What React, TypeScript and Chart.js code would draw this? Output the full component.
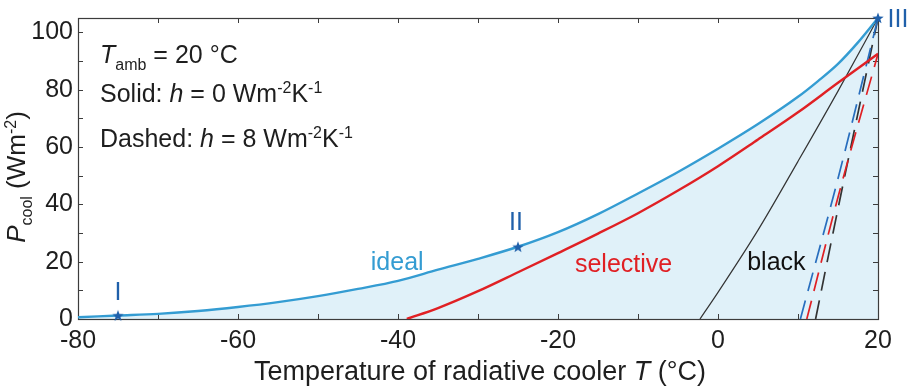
import React, { useEffect, useRef } from 'react';
import { Chart, registerables } from 'chart.js';

Chart.register(...registerables);

// ---------- data ----------
const idealT = [-80, -75, -70, -65, -60, -55, -50, -45, -40, -35, -30, -25, -20, -15, -10, -5, 0, 5, 10, 12.5, 15, 17.5, 20];
const idealP = [0.6, 1.2, 1.8, 2.8, 4.2, 5.9, 8.0, 10.5, 13.3, 17.2, 21.0, 25.2, 30.3, 36.6, 43.8, 51.3, 59.4, 68.0, 77.5, 83.0, 89.0, 96.5, 105];

const selectiveT = [-38.9, -35, -30, -25, -20, -15, -10, -5, 0, 5, 10, 15, 20];
const selectiveP = [0, 3.8, 9.7, 16.3, 23.0, 29.8, 36.9, 44.8, 53.3, 62.6, 72.1, 82.4, 92.5];

const blackT = [-2.25, 0, 5, 10, 15, 20];
const blackP = [0, 9.3, 31, 55, 79.5, 105];

const idealDashT = [10.3, 15, 20];
const idealDashP = [0, 49, 105];
const selectiveDashT = [11.1, 15, 20];
const selectiveDashP = [0, 42.5, 92.5];
const blackDashT = [12.2, 15, 20];
const blackDashP = [0, 38.5, 105];

const starT = [-75, -25, 20];
const starP = [1.2, 25.2, 105];
const starNames = ['I', 'II', 'III'];
const starLabelT = [-75, -25.25, 22.5];
const starLabelP = [6.6, 31.2, 101.9];

const curveNames = ['ideal', 'selective', 'black'];
const curveLabelT = [-40.1, -11.8, 7.3];
const curveLabelP = [17.2, 16.5, 17.2];

const xTickValues = [-80, -60, -40, -20, 0, 20];
const yTickValues = [0, 20, 40, 60, 80, 100];
const xMinorTicks = [-80, -70, -60, -50, -40, -30, -20, -10, 0, 10, 20];
const yMinorTicks = [0, 10, 20, 30, 40, 50, 60, 70, 80, 90, 100];

// ---------- styles ----------
const FONT = '"Liberation Sans", Arial, Helvetica, sans-serif';
const BLUE = 'rgb(52,156,210)';
const RED = 'rgb(224,32,36)';
const BLACK = '#333333';
const DARKBLUE = 'rgb(32,96,170)';
const FILL = 'rgb(224,241,249)';
const TEXT = '#1e1e1e';

const W = 909;
const H = 390;

type Seg = { t: string; it?: boolean; sub?: boolean; sup?: boolean };

const segFont = (s: Seg, fs: number) =>
  `${s.it ? 'italic ' : ''}${s.sub || s.sup ? Math.round(fs * 0.62) : fs}px ${FONT}`;

function measureRich(ctx: CanvasRenderingContext2D, segs: Seg[], fs: number) {
  let w = 0;
  for (const s of segs) {
    ctx.font = segFont(s, fs);
    w += ctx.measureText(s.t).width;
  }
  return w;
}

function drawRich(
  ctx: CanvasRenderingContext2D,
  segs: Seg[],
  x: number,
  y: number,
  fs: number,
  color: string,
  align: 'left' | 'center' = 'left'
) {
  const w = measureRich(ctx, segs, fs);
  let cx = align === 'center' ? x - w / 2 : x;
  ctx.textAlign = 'left';
  ctx.textBaseline = 'alphabetic';
  ctx.fillStyle = color;
  for (const s of segs) {
    ctx.font = segFont(s, fs);
    const dy = s.sub ? fs * 0.28 : s.sup ? -fs * 0.36 : 0;
    ctx.fillText(s.t, cx, y + dy);
    cx += ctx.measureText(s.t).width;
  }
}

const toPts = (xs: number[], ys: number[]) => xs.map((x, i) => ({ x, y: ys[i] }));

function makeStar(color: string, r: number) {
  const c = document.createElement('canvas');
  const s = Math.ceil(r * 2 + 2);
  c.width = s;
  c.height = s;
  const g = c.getContext('2d')!;
  g.fillStyle = color;
  g.beginPath();
  for (let i = 0; i < 10; i++) {
    const rad = i % 2 === 0 ? r : r * 0.42;
    const a = -Math.PI / 2 + (i * Math.PI) / 5;
    const px = s / 2 + rad * Math.cos(a);
    const py = s / 2 + rad * Math.sin(a) + r * 0.08;
    if (i === 0) g.moveTo(px, py);
    else g.lineTo(px, py);
  }
  g.closePath();
  g.fill();
  return c;
}

const framePlugin = {
  id: 'frameTicks',
  beforeDatasetsDraw(chart: any) {
    const { ctx, chartArea: a, scales } = chart;
    const xs = scales.x;
    const ys = scales.y;
    const tl = 5;
    ctx.save();
    ctx.strokeStyle = '#3c3c3c';
    ctx.lineWidth = 1;
    ctx.beginPath();
    for (const v of xMinorTicks) {
      const px = Math.round(xs.getPixelForValue(v)) + 0.5;
      ctx.moveTo(px, a.bottom);
      ctx.lineTo(px, a.bottom - tl);
      ctx.moveTo(px, a.top);
      ctx.lineTo(px, a.top + tl);
    }
    for (const v of yMinorTicks) {
      const py = Math.round(ys.getPixelForValue(v)) + 0.5;
      ctx.moveTo(a.left, py);
      ctx.lineTo(a.left + tl, py);
      ctx.moveTo(a.right, py);
      ctx.lineTo(a.right - tl, py);
    }
    ctx.stroke();
    ctx.lineWidth = 1.2;
    ctx.strokeRect(Math.round(a.left) + 0.5, Math.round(a.top) + 0.5, Math.round(a.right - a.left), Math.round(a.bottom - a.top));
    ctx.restore();
  },
};

const textPlugin = {
  id: 'richTexts',
  afterDraw(chart: any) {
    const { ctx, chartArea: a, scales } = chart;
    const xs = scales.x;
    const ys = scales.y;
    ctx.save();
    // annotation block
    drawRich(ctx, [{ t: 'T', it: true }, { t: 'amb', sub: true }, { t: ' = 20 °C' }], a.left + 22, a.top + 45, 25, TEXT);
    drawRich(
      ctx,
      [{ t: 'Solid: ' }, { t: 'h', it: true }, { t: ' = 0 Wm' }, { t: '-2', sup: true }, { t: 'K' }, { t: '-1', sup: true }],
      a.left + 22,
      a.top + 84,
      25,
      TEXT
    );
    drawRich(
      ctx,
      [{ t: 'Dashed: ' }, { t: 'h', it: true }, { t: ' = 8 Wm' }, { t: '-2', sup: true }, { t: 'K' }, { t: '-1', sup: true }],
      a.left + 22,
      a.top + 129,
      25,
      TEXT
    );
    // axis titles
    drawRich(
      ctx,
      [{ t: 'Temperature of radiative cooler ' }, { t: 'T', it: true }, { t: ' (°C)' }],
      480,
      a.bottom + 61,
      27,
      TEXT,
      'center'
    );
    ctx.save();
    ctx.translate(25, 177);
    ctx.rotate(-Math.PI / 2);
    drawRich(ctx, [{ t: 'P', it: true }, { t: 'cool', sub: true }, { t: ' (Wm' }, { t: '-2', sup: true }, { t: ')' }], 0, 0, 26, TEXT, 'center');
    ctx.restore();
    // curve labels
    const curveColors = [BLUE, RED, '#111111'];
    curveNames.forEach((n, i) => {
      drawRich(ctx, [{ t: n }], xs.getPixelForValue(curveLabelT[i]), ys.getPixelForValue(curveLabelP[i]), 25, curveColors[i], 'center');
    });
    // star labels
    starNames.forEach((n, i) => {
      drawRich(ctx, [{ t: n }], xs.getPixelForValue(starLabelT[i]), ys.getPixelForValue(starLabelP[i]), 25, DARKBLUE, 'center');
    });
    ctx.restore();
  },
};

export default function App() {
  const ref = useRef<HTMLCanvasElement | null>(null);
  useEffect(() => {
    if (!ref.current) return;
    document.body.style.margin = '0';
    document.body.style.overflow = 'hidden';
    const star = makeStar(DARKBLUE, 6);
    const line = (xs: number[], ys: number[], color: string, width: number, order: number, extra: any = {}) => ({
      data: toPts(xs, ys),
      borderColor: color,
      borderWidth: width,
      pointRadius: 0,
      fill: false,
      cubicInterpolationMode: 'monotone',
      order,
      ...extra,
    });
    const chart = new Chart(ref.current, {
      type: 'line',
      data: {
        datasets: [
          {
            data: toPts(starT, starP),
            showLine: false,
            pointStyle: star as any,
            pointRadius: 6,
            clip: false as any,
            order: 0,
          } as any,
          line(idealT, idealP, BLUE, 2.4, 1, { fill: 'origin', backgroundColor: FILL }),
          line(selectiveT, selectiveP, RED, 2.4, 2),
          line(blackT, blackP, BLACK, 1.2, 3),
          line(idealDashT, idealDashP, 'rgb(40,110,190)', 1.7, 4, { borderDash: [19, 10] }),
          line(selectiveDashT, selectiveDashP, RED, 1.7, 5, { borderDash: [19, 10] }),
          line(blackDashT, blackDashP, BLACK, 1.7, 6, { borderDash: [19, 10] }),
        ] as any,
      },
      options: {
        responsive: false,
        animation: false,
        devicePixelRatio: 1,
        layout: { padding: { top: 18, right: 31, left: 0, bottom: 0 } },
        plugins: {
          legend: { display: false },
          tooltip: { enabled: false },
          filler: { drawTime: 'beforeDatasetsDraw' } as any,
        },
        scales: {
          x: {
            type: 'linear',
            min: -80,
            max: 20,
            grid: { display: false, drawTicks: false },
            border: { display: false },
            ticks: {
              font: { size: 25, family: FONT },
              color: TEXT,
              padding: 7,
              maxRotation: 0,
              autoSkip: false,
              callback: (v: any) => String(v),
            },
            afterBuildTicks: (s: any) => {
              s.ticks = xTickValues.map((v) => ({ value: v }));
            },
            afterFit: (s: any) => {
              s.height = 71;
              s.paddingLeft = 0;
              s.paddingRight = 0;
            },
          },
          y: {
            type: 'linear',
            min: 0,
            max: 105,
            grid: { display: false, drawTicks: false },
            border: { display: false },
            ticks: {
              font: { size: 25, family: FONT },
              color: TEXT,
              padding: 5,
              autoSkip: false,
              callback: (v: any) => String(v),
            },
            afterBuildTicks: (s: any) => {
              s.ticks = yTickValues.map((v) => ({ value: v }));
            },
            afterFit: (s: any) => {
              s.width = 78;
              s.paddingTop = 0;
              s.paddingBottom = 0;
            },
          },
        },
      } as any,
      plugins: [framePlugin, textPlugin],
    });
    return () => chart.destroy();
  }, []);
  return (
    <div style={{ width: W, height: H }}>
      <canvas ref={ref} width={W} height={H} style={{ display: 'block' }} />
    </div>
  );
}
